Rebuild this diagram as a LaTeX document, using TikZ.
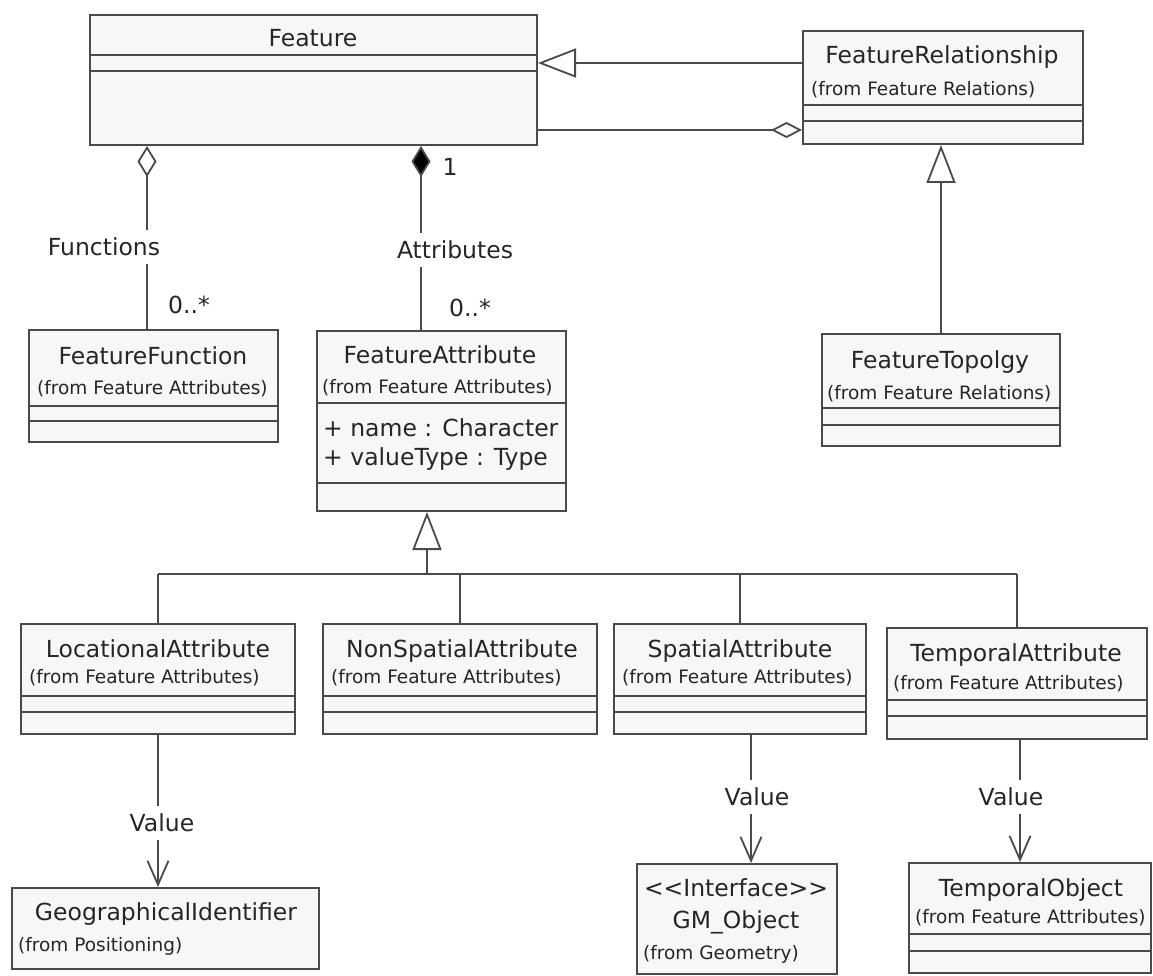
\documentclass[tikz,border=0pt]{standalone}
\usepackage{fontspec}
\setmainfont{DejaVu Sans}
\usetikzlibrary{arrows.meta}
\definecolor{ln}{HTML}{4A4A4A}
\definecolor{tx}{HTML}{262626}
\definecolor{bx}{HTML}{F7F7F7}
\begin{document}
\begin{tikzpicture}[x=1pt,y=-1pt,
  conn/.style={draw=ln, line width=1.8pt},
  cls/.style={draw=ln, fill=bx, line width=2pt, inner sep=0pt, anchor=north west},
  div/.style={draw=ln, line width=2pt},
  ttl/.style={anchor=base, text=tx, font=\fontsize{23.5}{28}\selectfont, inner sep=0pt},
  sub/.style={anchor=base west, text=tx, font=\fontsize{18.5}{22}\selectfont, inner sep=0pt},
  att/.style={anchor=base west, text=tx, font=\fontsize{23.5}{28}\selectfont, inner sep=0pt},
  lbl/.style={text=tx, font=\fontsize{23.5}{28}\selectfont, fill=white, inner xsep=2pt, inner ysep=8pt},
  mult/.style={text=tx, font=\fontsize{23.5}{28}\selectfont, inner sep=0pt},
  gen/.style={conn, -{Triangle[length=38pt,width=29pt,fill=white]}},
  aggr/.style={conn, {Diamond[length=31pt,width=19pt,fill=white]}-},
  aggrend/.style={conn, -{Diamond[length=31pt,width=16pt,fill=white]}},
  comp/.style={conn, {Diamond[length=31pt,width=19pt,fill=black]}-},
  val/.style={conn, -{Straight Barb[length=24pt,width=21pt]}}
]
\fill[white] (0,0) rectangle (1153,976);
\useasboundingbox (0,0) rectangle (1153,976);

% ---- class boxes ----
\node[cls, minimum width=447pt, minimum height=130pt] (feat) at (89,14) {};
\node[cls, minimum width=280pt, minimum height=113pt] (fr) at (802,30) {};
\node[cls, minimum width=249pt, minimum height=112pt] (ff) at (28,329) {};
\node[cls, minimum width=249pt, minimum height=180pt] (fa) at (316,330) {};
\node[cls, minimum width=238pt, minimum height=112pt] (ft) at (821,333) {};
\node[cls, minimum width=274pt, minimum height=110pt] (loc) at (20,623) {};
\node[cls, minimum width=274pt, minimum height=110pt] (nsp) at (322,623) {};
\node[cls, minimum width=252pt, minimum height=110pt] (spa) at (613,623) {};
\node[cls, minimum width=260pt, minimum height=111pt] (tem) at (886,627) {};
\node[cls, minimum width=307pt, minimum height=81pt] (geo) at (11,887) {};
\node[cls, minimum width=200pt, minimum height=110pt] (gm) at (636,863) {};
\node[cls, minimum width=242pt, minimum height=110pt] (tob) at (908,862) {};

% ---- compartment dividers ----
\draw[div] (feat.west |- 0,55) -- (feat.east |- 0,55);
\draw[div] (feat.west |- 0,71) -- (feat.east |- 0,71);
\draw[div] (fr.west |- 0,105) -- (fr.east |- 0,105);
\draw[div] (fr.west |- 0,121) -- (fr.east |- 0,121);
\draw[div] (ff.west |- 0,406) -- (ff.east |- 0,406);
\draw[div] (ff.west |- 0,421) -- (ff.east |- 0,421);
\draw[div] (fa.west |- 0,403) -- (fa.east |- 0,403);
\draw[div] (fa.west |- 0,483) -- (fa.east |- 0,483);
\draw[div] (ft.west |- 0,408) -- (ft.east |- 0,408);
\draw[div] (ft.west |- 0,425) -- (ft.east |- 0,425);
\draw[div] (loc.west |- 0,696) -- (loc.east |- 0,696);
\draw[div] (loc.west |- 0,712) -- (loc.east |- 0,712);
\draw[div] (nsp.west |- 0,696) -- (nsp.east |- 0,696);
\draw[div] (nsp.west |- 0,712) -- (nsp.east |- 0,712);
\draw[div] (spa.west |- 0,696) -- (spa.east |- 0,696);
\draw[div] (spa.west |- 0,712) -- (spa.east |- 0,712);
\draw[div] (tem.west |- 0,700) -- (tem.east |- 0,700);
\draw[div] (tem.west |- 0,716) -- (tem.east |- 0,716);
\draw[div] (tob.west |- 0,934) -- (tob.east |- 0,934);
\draw[div] (tob.west |- 0,951) -- (tob.east |- 0,951);

% ---- texts ----
\node[ttl] (tfeat) at (313,46.5) {Feature};
\node[ttl] (tfr) at (942,63.5) {FeatureRelationship};
\node[sub] (sfr) at (811,95.5) {(from Feature Relations)};
\node[ttl] (tff) at (153,364.5) {FeatureFunction};
\node[sub] (sff) at (37,394.5) {(from Feature Attributes)};
\node[ttl] (tfa) at (440,363.5) {FeatureAttribute};
\node[sub] (sfa) at (322,393.5) {(from Feature Attributes)};
\node[att] (a1) at (323,436.5) {+ name : Character};
\node[att] (a2) at (323,465.5) {+ valueType : Type};
\node[ttl] (tft) at (940,368.5) {FeatureTopolgy};
\node[sub] (sft) at (827,399.5) {(from Feature Relations)};
\node[ttl] (tloc) at (158,657.5) {LocationalAttribute};
\node[sub] (sloc) at (29,683.5) {(from Feature Attributes)};
\node[ttl] (tnsp) at (462,657.5) {NonSpatialAttribute};
\node[sub] (snsp) at (331,683.5) {(from Feature Attributes)};
\node[ttl] (tspa) at (740,657.5) {SpatialAttribute};
\node[sub] (sspa) at (622,683.5) {(from Feature Attributes)};
\node[ttl] (ttem) at (1016,661.5) {TemporalAttribute};
\node[sub] (stem) at (893,689.5) {(from Feature Attributes)};
\node[ttl] (tgeo) at (166,920.5) {GeographicalIdentifier};
\node[sub] (sgeo) at (18,951.5) {(from Positioning)};
\node[ttl] (tgm1) at (736,896.5) {\textless\kern0pt\textless\kern0pt Interface\kern0pt\textgreater\kern0pt\textgreater};
\node[ttl] (tgm2) at (736,928.5) {GM\_Object};
\node[sub] (sgm) at (643,959.5) {(from Geometry)};
\node[ttl] (ttob) at (1031,896.5) {TemporalObject};
\node[sub] (stob) at (915,923.5) {(from Feature Attributes)};

% ---- connectors ----
\draw[gen] (fr.west |- 0,63) -- (feat.east |- 0,63);
\draw[aggrend] (feat.east |- 0,130) -- (fr.west |- 0,130);
\draw[gen] (ft.north) -- (ft.north |- fr.south);
\draw[aggr] (feat.south -| 147,0) -- (ff.north -| 147,0);
\draw[comp] (feat.south -| 421,0) -- (fa.north -| 421,0);

\coordinate (bar) at (427,574);
\draw[gen] (bar) -- (bar |- fa.south);
\draw[conn] (loc.north |- bar) -- (tem.north |- bar);
\draw[conn] (loc.north) -- (loc.north |- bar);
\draw[conn] (nsp.north) -- (nsp.north |- bar);
\draw[conn] (spa.north) -- (spa.north |- bar);
\draw[conn] (tem.north) -- (tem.north |- bar);

\draw[val] (loc.south) -- (loc.south |- geo.north);
\draw[val] (spa.south -| 751,0) -- (gm.north -| 751,0);
\draw[val] (tem.south -| 1020,0) -- (tob.north -| 1020,0);

% ---- connector labels ----
\node[lbl] (lfun) at (104,247) {Functions};
\node[lbl] (latt) at (455,250) {Attributes};
\node[mult] (m1) at (189,305) {0..*};
\node[mult] (m2) at (470,308) {0..*};
\node[mult] (m3) at (450,167) {1};
\node[lbl] (v1) at (162,823) {Value};
\node[lbl] (v2) at (757,797) {Value};
\node[lbl] (v3) at (1011,797) {Value};
\end{tikzpicture}
\end{document}
